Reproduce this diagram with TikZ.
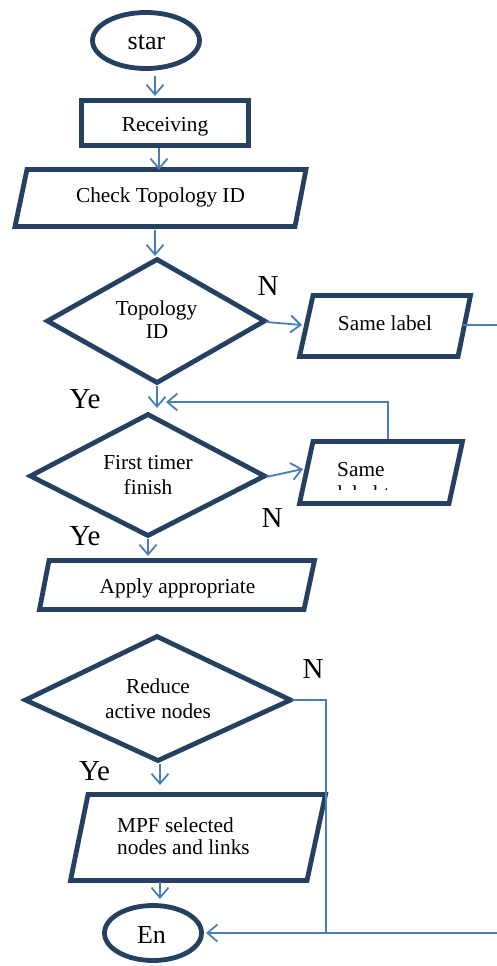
\documentclass[tikz,border=0pt]{standalone}
\usepackage{fontspec}
\setmainfont{Liberation Serif}
\usetikzlibrary{arrows.meta,shapes.geometric}
\definecolor{navy}{RGB}{38,64,97}
\definecolor{arrblue}{RGB}{74,126,187}
\begin{document}
\begin{tikzpicture}[x=1pt,y=-1pt,
  box/.style={draw=navy,line width=4.8pt,line join=miter},
  arr/.style={draw=arrblue,line width=1.8pt,-{Straight Barb[length=10pt,width=17pt,line width=1.8pt]}},
  conn/.style={draw=arrblue,line width=1.8pt},
  txt/.style={font=\fontsize{21.3}{24}\selectfont,inner sep=0pt,anchor=base},
  big/.style={font=\fontsize{26}{30}\selectfont,inner sep=0pt,anchor=base},
  yn/.style={font=\fontsize{29}{30}\selectfont,inner sep=0pt,anchor=base}]
\useasboundingbox[fill=white] (0,0) rectangle (497,966);

% shapes
\node[box,ellipse,minimum width=107pt,minimum height=56pt,inner sep=0pt] (startsh) at (146,40.5) {};
\node[box,rectangle,minimum width=167pt,minimum height=45pt,inner sep=0pt] (recvsh) at (165,123) {};
\draw[box] (27,169.5) -- (306,169.5) -- (295,226.5) -- (15,226.5) -- cycle;
\draw[box] (157,259.5) -- (264.5,321) -- (157,382.5) -- (47.5,321) -- cycle;
\draw[box] (313,295.5) -- (470.5,295.5) -- (458,356.5) -- (299.5,356.5) -- cycle;
\draw[box] (148,414.5) -- (264.5,476) -- (148,535.5) -- (30.5,476) -- cycle;
\draw[box] (313,441.5) -- (462.5,441.5) -- (449,503.5) -- (299.5,503.5) -- cycle;
\draw[box] (49,560.5) -- (314.5,560.5) -- (304,609.5) -- (39.5,609.5) -- cycle;
\draw[box] (157,636.5) -- (290.5,700) -- (158,760.5) -- (25.5,700) -- cycle;
\draw[box] (88,794.5) -- (325.5,794.5) -- (307,880.5) -- (70.5,880.5) -- cycle;
\node[box,ellipse,minimum width=97pt,minimum height=55pt,inner sep=0pt] (endsh) at (153,933) {};

% texts
\node[big] (start) at (146.5,50) {star};
\node[txt] (recv) at (165,131) {Receiving};
\node[txt] (check) at (160.5,202) {Check Topology ID};
\node[txt] (d1a) at (156.5,315) {Topology};
\node[txt] (d1b) at (157,338) {ID};
\node[txt] (same1) at (385,330) {Same label};
\node[txt,anchor=base west] (same2) at (337,476) {Same};
\begin{scope}
  \clip (330,480) rectangle (460,489.5);
  \node[txt,anchor=base west] (same2b) at (337,500) {label to};
\end{scope}
\node[txt] (d2a) at (148,469) {First timer};
\node[txt] (d2b) at (148,494) {finish};
\node[txt] (apply) at (177.5,593) {Apply appropriate};
\node[txt] (d3a) at (158,693) {Reduce};
\node[txt] (d3b) at (158,718) {active nodes};
\node[txt,anchor=base west] (mpfa) at (117,832) {MPF selected};
\node[txt,anchor=base west] (mpfb) at (117,854) {nodes and links};
\node[big] (en) at (151.5,943) {En};

\node[yn] (ye1) at (85,408) {Ye};
\node[yn] (ye2) at (85,545) {Ye};
\node[yn] (ye3) at (94.5,780) {Ye};
\node[yn] (n1) at (268,295) {N};
\node[yn] (n2) at (272,527) {N};
\node[yn] (n3) at (313,678) {N};

% connector points
\coordinate (p1a) at (155,76);  \coordinate (p1b) at (155,96);
\coordinate (p2a) at (159,148); \coordinate (p2b) at (159,170);
\coordinate (p3a) at (155,230); \coordinate (p3b) at (155,256);
\coordinate (d1r) at (266,322); \coordinate (s1l) at (302,325);
\coordinate (s1r) at (463,325); \coordinate (edge1) at (497,325);
\coordinate (d1bot) at (157,386); \coordinate (d2top) at (157,408);
\coordinate (s2t) at (388,439); \coordinate (fbk) at (388,402); \coordinate (fbend) at (166,402);
\coordinate (d2r) at (266,477); \coordinate (s2l) at (303,469);
\coordinate (d2bot) at (148,539); \coordinate (apt) at (148,556);
\coordinate (d3r) at (292,700); \coordinate (k1) at (326,700); \coordinate (k2) at (326,933);
\coordinate (ent) at (206,933); \coordinate (edge2) at (497,933);
\coordinate (d3bot) at (160,764); \coordinate (mpft) at (160,785);
\coordinate (mpfbot) at (160,882); \coordinate (ent2) at (160,899);

\draw[arr] (p1a) -- (p1b);
\draw[arr] (p2a) -- (p2b);
\draw[arr] (p3a) -- (p3b);
\draw[arr] (d1r) -- (s1l);
\draw[conn] (s1r) -- (edge1);
\draw[arr] (d1bot) -- (d2top);
\draw[arr] (s2t) -- (fbk) -- (fbend);
\draw[arr] (d2r) -- (s2l);
\draw[arr] (d2bot) -- (apt);
\draw[arr] (d3r) -- (k1) -- (k2) -- (ent);
\draw[conn] (k2) -- (edge2);
\draw[arr] (d3bot) -- (mpft);
\draw[arr] (mpfbot) -- (ent2);
\end{tikzpicture}
\end{document}
